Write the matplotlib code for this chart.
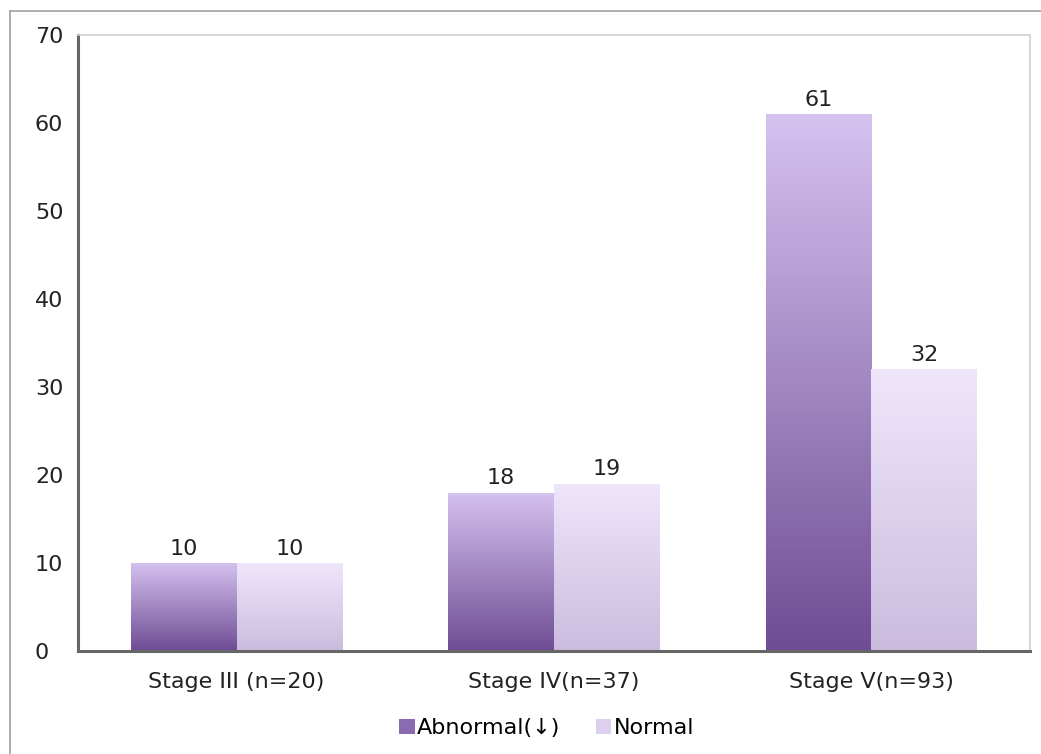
import numpy as np
import matplotlib
matplotlib.use('Agg')
import matplotlib.pyplot as plt
from matplotlib.patches import Patch
from matplotlib.colors import LinearSegmentedColormap
from matplotlib.lines import Line2D

plt.rcParams['font.family'] = ['DejaVu Sans']

# data
categories = ['Stage III (n=20)', 'Stage IV(n=37)', 'Stage V(n=93)']
series_names = ['Abnormal(↓)', 'Normal']
abnormal = [10, 18, 61]
normal = [10, 19, 32]

# gradients (bottom colour -> top colour)
grad_abn = LinearSegmentedColormap.from_list('abn', ['#6f4c94', '#d5c2ef'])
grad_nor = LinearSegmentedColormap.from_list('nor', ['#cbbcdf', '#efe6fc'])

fig = plt.figure(figsize=(10.41, 7.54), dpi=100)
ax = fig.add_axes([0.0749, 0.1366, 0.9145, 0.817])

x = np.arange(len(categories))
width = 1 / 3

grad = np.linspace(0, 1, 256).reshape(-1, 1)
for vals, cmap, off in [(abnormal, grad_abn, -width / 2), (normal, grad_nor, width / 2)]:
    bars = ax.bar(x + off, vals, width, color='none', edgecolor='none')
    for b, v in zip(bars, vals):
        x0 = b.get_x()
        im = ax.imshow(grad, cmap=cmap, aspect='auto', origin='lower',
                       extent=[x0, x0 + width, 0, v], zorder=2)
        im.set_clip_path(b)
        ax.text(x0 + width / 2, v + 0.5, str(v), ha='center', va='bottom',
                fontsize=16, color='#222222')

ax.set_xlim(-0.5, 2.5)
ax.set_ylim(0, 70)
ax.set_yticks(range(0, 71, 10))
ax.set_xticks(x)
ax.set_xticklabels(categories, fontsize=16, color='#222222')
ax.tick_params(axis='both', length=0)
ax.tick_params(axis='x', pad=15)
ax.tick_params(axis='y', pad=31, labelsize=16, labelcolor='#222222')
for lab in ax.get_yticklabels():
    lab.set_horizontalalignment('left')

for s in ['left', 'bottom']:
    ax.spines[s].set_color('#666666')
    ax.spines[s].set_linewidth(2.2)
for s in ['top', 'right']:
    ax.spines[s].set_color('#d0d0d0')
    ax.spines[s].set_linewidth(1.2)

handles = [Patch(facecolor='#8b6bb0', edgecolor='none'),
           Patch(facecolor='#ddd0ef', edgecolor='none')]
fig.legend(handles, series_names, loc='center', bbox_to_anchor=(0.525, 0.034),
           ncol=2, frameon=False, fontsize=16, handlelength=0.7, handleheight=0.7,
           handletextpad=0.1, columnspacing=1.6)

# outer frame of the figure region
fig.add_artist(Line2D([0.0096, 0.0096], [0, 0.9854], color='#a0a0a0', lw=1.2))
fig.add_artist(Line2D([0.0096, 1.0], [0.9854, 0.9854], color='#a0a0a0', lw=1.2))

fig.savefig('out.png', dpi=100)
